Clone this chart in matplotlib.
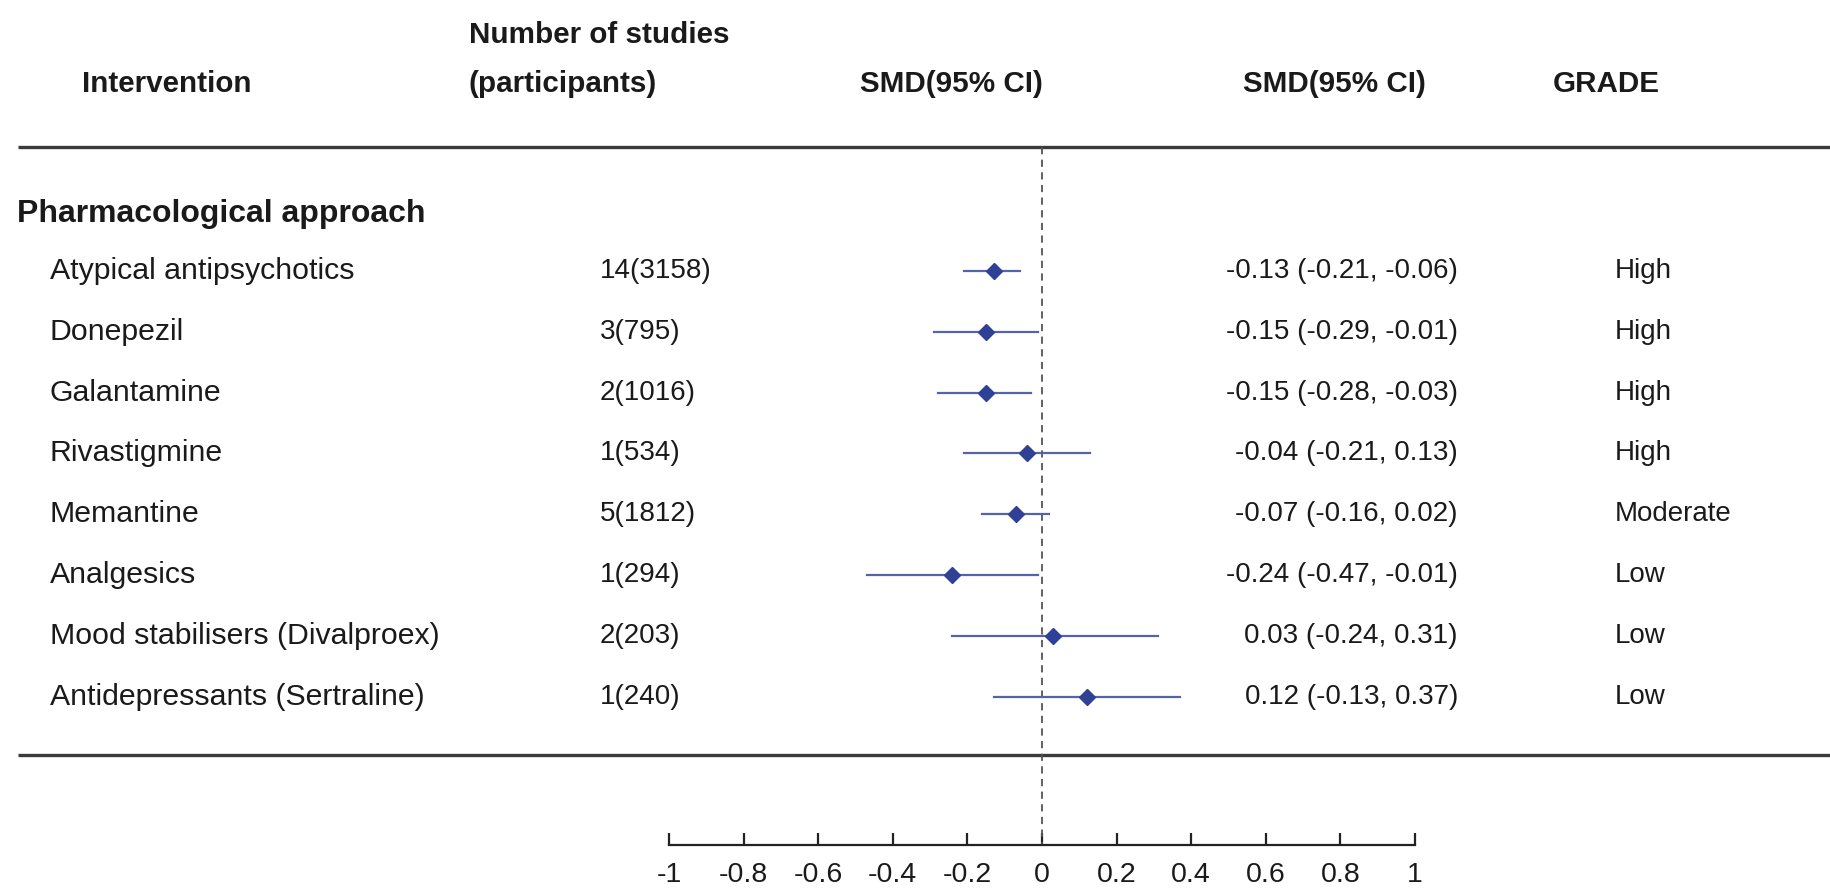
import matplotlib
matplotlib.use("Agg")
import matplotlib.pyplot as plt
from matplotlib.transforms import blended_transform_factory

# ---------------- data ----------------
interventions = ["Atypical antipsychotics", "Donepezil", "Galantamine", "Rivastigmine",
                 "Memantine", "Analgesics", "Mood stabilisers (Divalproex)",
                 "Antidepressants (Sertraline)"]
studies = ["14(3158)", "3(795)", "2(1016)", "1(534)", "5(1812)", "1(294)", "2(203)", "1(240)"]
smd = [-0.13, -0.15, -0.15, -0.04, -0.07, -0.24, 0.03, 0.12]
ci_low = [-0.21, -0.29, -0.28, -0.21, -0.16, -0.47, -0.24, -0.13]
ci_high = [-0.06, -0.01, -0.03, 0.13, 0.02, -0.01, 0.31, 0.37]
grade = ["High", "High", "High", "High", "Moderate", "Low", "Low", "Low"]
section_title = "Pharmacological approach"
xticks = [-1, -0.8, -0.6, -0.4, -0.2, 0, 0.2, 0.4, 0.6, 0.8, 1]
xtick_labels = ["-1", "-0.8", "-0.6", "-0.4", "-0.2", "0", "0.2", "0.4", "0.6", "0.8", "1"]

# ---------------- layout ----------------
W, H, DPI = 1831, 888, 100
plt.rcParams["font.family"] = ["Liberation Sans", "DejaVu Sans"]
fig = plt.figure(figsize=(W / DPI, H / DPI), dpi=DPI)
ax = fig.add_axes([0, 0, 1, 1])

# pixel geometry of the scale
px_m1, px_p1 = 669, 1415
u = 2.0 / (px_p1 - px_m1)
ax.set_xlim(-1 - px_m1 * u, 1 + (W - px_p1) * u)
row0, step = 271, 60.8
def r(ypx):
    return (ypx - row0) / step
ax.set_ylim(r(H), r(0))

rows = list(range(len(interventions)))
txt = "#1a1a1a"
fs_lab = 21.8
fs_num = 20
hfs = 21.3

# rules
tr_rule = blended_transform_factory(fig.transFigure, ax.transData)
for yp in (147, 755):
    ax.plot([18 / W, 1.0], [r(yp), r(yp)], color="#3a3a3a", lw=2.4,
            transform=tr_rule, solid_capstyle="butt")

# zero line
ax.plot([0, 0], [r(147), r(845)], color="#555555", lw=1.3, ls=(0, (4, 3)))

# CIs and points
for i in rows:
    ax.plot([ci_low[i], ci_high[i]], [i, i], color="#5564a8", lw=1.6, zorder=3)
ax.plot(smd, rows, ls="none", marker="D", ms=8.5, color="#2f4196", zorder=4)

# text helpers
tf = blended_transform_factory(fig.transFigure, ax.transData)
def T(xpx, y, s, **kw):
    ax.text(xpx / W, y, s, transform=tf, color=txt, va="center", **kw)

T(82, r(84), "Intervention", fontsize=hfs, fontweight="bold")
T(469, r(35), "Number of studies", fontsize=hfs, fontweight="bold")
T(469, r(84), "(participants)", fontsize=hfs, fontweight="bold")
T(860, r(84), "SMD(95% CI)", fontsize=hfs, fontweight="bold")
T(1243, r(84), "SMD(95% CI)", fontsize=hfs, fontweight="bold")
T(1553, r(84), "GRADE", fontsize=hfs, fontweight="bold")
T(17, r(214), section_title, fontsize=23, fontweight="bold")

for i in rows:
    T(50, i, interventions[i], fontsize=fs_lab)
    T(600, i, studies[i], fontsize=fs_num)
    T(1458, i, f"{smd[i]:.2f} ({ci_low[i]:.2f}, {ci_high[i]:.2f})", fontsize=fs_num, ha="right")
    T(1615, i, grade[i], fontsize=fs_num)

# axis
for s in ("top", "left", "right"):
    ax.spines[s].set_visible(False)
ax.spines["bottom"].set_position(("data", r(845)))
ax.spines["bottom"].set_bounds(-1, 1)
ax.spines["bottom"].set_linewidth(1.6)
ax.spines["bottom"].set_color("#222222")
ax.set_xticks(xticks)
ax.set_xticklabels(xtick_labels)
ax.tick_params(axis="x", direction="in", length=8.6, width=1.6, color="#222222",
               labelsize=20.5, pad=12, labelcolor=txt)
ax.set_yticks([])
ax.patch.set_alpha(0)

fig.savefig("out.png", dpi=DPI, facecolor="white")
